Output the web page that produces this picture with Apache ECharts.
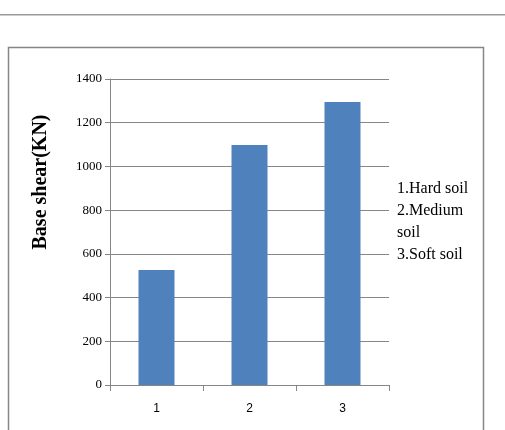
<!DOCTYPE html>
<html><head><meta charset="utf-8">
<script src="https://cdn.jsdelivr.net/npm/echarts@6/dist/echarts.min.js"></script>
<style>html,body{margin:0;padding:0;background:#fff}#c{width:505px;height:430px}</style>
</head><body><div id="c"></div>
<script>
const categories = ['1', '2', '3'];
const baseShear = [526, 1098, 1295];
const yTicks = [0, 200, 400, 600, 800, 1000, 1200, 1400];
const legendLines = ['1.Hard soil', '2.Medium', 'soil', '3.Soft soil'];
const yName = 'Base shear(KN)';

const chart = echarts.init(document.getElementById('c'));
const serif = '"Liberation Serif", "DejaVu Serif", serif';
chart.setOption({
  animation: false,
  grid: {left: 110, top: 79, right: 116, bottom: 45},
  xAxis: {
    type: 'category', data: categories,
    axisLine: {lineStyle: {color: '#868686'}},
    axisTick: {show: true, length: 6, lineStyle: {color: '#868686'}},
    axisLabel: {color: '#000', fontFamily: 'Liberation Sans, sans-serif', fontSize: 12, margin: 18}
  },
  yAxis: {
    type: 'value', min: yTicks[0], max: yTicks[yTicks.length - 1], interval: 200,
    axisLine: {show: true, lineStyle: {color: '#868686'}},
    axisTick: {show: true, inside: false, length: 5, lineStyle: {color: '#868686'}},
    splitLine: {lineStyle: {color: '#868686', width: 1}},
    axisLabel: {color: '#000', fontFamily: serif, fontSize: 13, margin: 8, formatter: v => String(v)}
  },
  series: [{
    type: 'bar', data: baseShear, barWidth: 36,
    itemStyle: {color: '#4F81BD'}
  }],
  graphic: [
    {type: 'rect', silent: true, shape: {x: 0, y: 14, width: 505, height: 1.5}, style: {fill: '#999'}},
    {type: 'rect', silent: true, shape: {x: 8.5, y: 47.5, width: 475, height: 400}, style: {fill: 'none', stroke: '#868686', lineWidth: 1.5}},
    {type: 'text', silent: true, x: 41, y: 182, rotation: Math.PI / 2,
     style: {text: yName, font: 'bold 20px ' + serif, fill: '#000', align: 'center', verticalAlign: 'middle'}},
    ...legendLines.map((t, i) => ({
      type: 'text', silent: true, x: 397, y: 189 + i * 22,
      style: {text: t, font: '16px ' + serif, fill: '#000', align: 'left', verticalAlign: 'middle'}
    }))
  ]
});
</script></body></html>
